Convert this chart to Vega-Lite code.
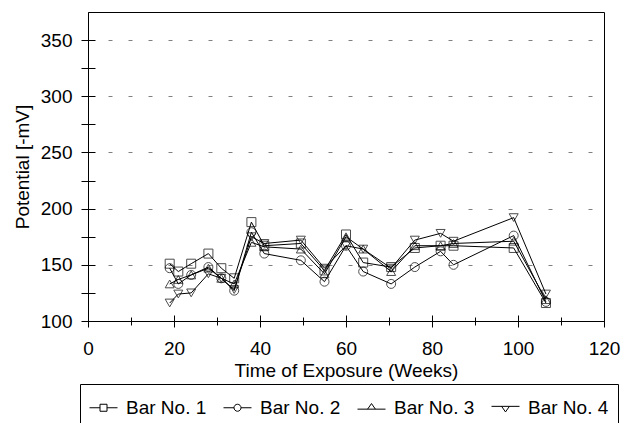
{
  "$schema": "https://vega.github.io/schema/vega-lite/v6.json",
  "width": 516,
  "height": 309,
  "autosize": "none",
  "padding": {"left": 88, "top": 12, "right": 20, "bottom": 102},
  "background": "white",
  "config": {
    "font": "Liberation Sans",
    "view": {"stroke": "black", "strokeWidth": 1},
    "axis": {
      "labelFont": "Liberation Sans", "titleFont": "Liberation Sans",
      "labelFontSize": 19, "titleFontSize": 19, "titleFontWeight": "normal",
      "labelColor": "black", "titleColor": "black",
      "domainColor": "black", "tickColor": "black", "domainWidth": 1, "tickWidth": 1
    }
  },
  "data": {"values": [
    {"week": 19, "bar": "Bar No. 1", "mV": 151}, {"week": 21, "bar": "Bar No. 1", "mV": 144}, {"week": 24, "bar": "Bar No. 1", "mV": 151}, {"week": 28, "bar": "Bar No. 1", "mV": 160}, {"week": 31, "bar": "Bar No. 1", "mV": 147}, {"week": 34, "bar": "Bar No. 1", "mV": 138}, {"week": 38, "bar": "Bar No. 1", "mV": 188}, {"week": 41, "bar": "Bar No. 1", "mV": 167}, {"week": 49.5, "bar": "Bar No. 1", "mV": 169}, {"week": 55, "bar": "Bar No. 1", "mV": 145}, {"week": 60, "bar": "Bar No. 1", "mV": 177}, {"week": 64, "bar": "Bar No. 1", "mV": 152}, {"week": 70.5, "bar": "Bar No. 1", "mV": 148}, {"week": 76, "bar": "Bar No. 1", "mV": 165}, {"week": 82, "bar": "Bar No. 1", "mV": 167}, {"week": 85, "bar": "Bar No. 1", "mV": 167}, {"week": 99, "bar": "Bar No. 1", "mV": 165}, {"week": 106.5, "bar": "Bar No. 1", "mV": 116},
    {"week": 19, "bar": "Bar No. 2", "mV": 147}, {"week": 21, "bar": "Bar No. 2", "mV": 133}, {"week": 24, "bar": "Bar No. 2", "mV": 141}, {"week": 28, "bar": "Bar No. 2", "mV": 148}, {"week": 31, "bar": "Bar No. 2", "mV": 138}, {"week": 34, "bar": "Bar No. 2", "mV": 127}, {"week": 38, "bar": "Bar No. 2", "mV": 179}, {"week": 41, "bar": "Bar No. 2", "mV": 160}, {"week": 49.5, "bar": "Bar No. 2", "mV": 154}, {"week": 55, "bar": "Bar No. 2", "mV": 135}, {"week": 60, "bar": "Bar No. 2", "mV": 167}, {"week": 64, "bar": "Bar No. 2", "mV": 144}, {"week": 70.5, "bar": "Bar No. 2", "mV": 133}, {"week": 76, "bar": "Bar No. 2", "mV": 148}, {"week": 82, "bar": "Bar No. 2", "mV": 162}, {"week": 85, "bar": "Bar No. 2", "mV": 150}, {"week": 99, "bar": "Bar No. 2", "mV": 176}, {"week": 106.5, "bar": "Bar No. 2", "mV": 117},
    {"week": 19, "bar": "Bar No. 3", "mV": 133}, {"week": 21, "bar": "Bar No. 3", "mV": 137}, {"week": 24, "bar": "Bar No. 3", "mV": 141}, {"week": 28, "bar": "Bar No. 3", "mV": 147}, {"week": 31, "bar": "Bar No. 3", "mV": 138}, {"week": 34, "bar": "Bar No. 3", "mV": 133}, {"week": 38, "bar": "Bar No. 3", "mV": 170}, {"week": 41, "bar": "Bar No. 3", "mV": 166}, {"week": 49.5, "bar": "Bar No. 3", "mV": 164}, {"week": 55, "bar": "Bar No. 3", "mV": 142}, {"week": 60, "bar": "Bar No. 3", "mV": 175}, {"week": 64, "bar": "Bar No. 3", "mV": 164}, {"week": 70.5, "bar": "Bar No. 3", "mV": 144}, {"week": 76, "bar": "Bar No. 3", "mV": 167}, {"week": 82, "bar": "Bar No. 3", "mV": 167}, {"week": 85, "bar": "Bar No. 3", "mV": 169}, {"week": 99, "bar": "Bar No. 3", "mV": 171}, {"week": 106.5, "bar": "Bar No. 3", "mV": 119},
    {"week": 19, "bar": "Bar No. 4", "mV": 116}, {"week": 21, "bar": "Bar No. 4", "mV": 124}, {"week": 24, "bar": "Bar No. 4", "mV": 125}, {"week": 28, "bar": "Bar No. 4", "mV": 142}, {"week": 31, "bar": "Bar No. 4", "mV": 138}, {"week": 34, "bar": "Bar No. 4", "mV": 128}, {"week": 38, "bar": "Bar No. 4", "mV": 175}, {"week": 41, "bar": "Bar No. 4", "mV": 169}, {"week": 49.5, "bar": "Bar No. 4", "mV": 172}, {"week": 55, "bar": "Bar No. 4", "mV": 147}, {"week": 60, "bar": "Bar No. 4", "mV": 167}, {"week": 64, "bar": "Bar No. 4", "mV": 164}, {"week": 70.5, "bar": "Bar No. 4", "mV": 147}, {"week": 76, "bar": "Bar No. 4", "mV": 172}, {"week": 82, "bar": "Bar No. 4", "mV": 178}, {"week": 85, "bar": "Bar No. 4", "mV": 171}, {"week": 99, "bar": "Bar No. 4", "mV": 192}, {"week": 106.5, "bar": "Bar No. 4", "mV": 124}
  ]},
  "layer": [
    {
      "mark": {"type": "line", "color": "black", "strokeWidth": 1},
      "encoding": {
        "x": {"field": "week", "type": "quantitative", "scale": {"domain": [0, 120], "nice": false},
          "axis": {"values": [0, 20, 40, 60, 80, 100, 120], "ticks": false, "labelPadding": 18, "labelFlush": false, "title": "Time of Exposure (Weeks)", "titlePadding": 3, "grid": false}},
        "y": {"field": "mV", "type": "quantitative", "scale": {"domain": [100, 375], "nice": false, "zero": false},
          "axis": {"values": [100, 150, 200, 250, 300, 350], "ticks": false, "labelPadding": 16, "title": "Potential [-mV]", "titlePadding": 8, "grid": true, "gridDash": [4, 16], "gridColor": "#808080", "gridWidth": 1}},
        "detail": {"field": "bar", "type": "nominal"},
        "order": {"field": "week", "type": "quantitative"}
      }
    },
    {
      "mark": {"type": "point", "filled": false, "color": "black", "strokeWidth": 1, "size": 81},
      "encoding": {
        "x": {"field": "week", "type": "quantitative", "axis": null},
        "y": {"field": "mV", "type": "quantitative", "axis": null},
        "shape": {"field": "bar", "type": "nominal", "legend": null,
          "scale": {"domain": ["Bar No. 1", "Bar No. 2", "Bar No. 3", "Bar No. 4"], "range": ["square", "circle", "triangle-up", "triangle-down"]}}
      }
    },
    {
      "mark": {"type": "point", "opacity": 0},
      "encoding": {
        "x": {"field": "week", "type": "quantitative",
          "axis": {"orient": "bottom", "values": [0, 20, 40, 60, 80, 100, 120], "offset": -6, "tickSize": 12, "labels": false, "domain": false, "grid": false, "title": null}},
        "y": {"field": "mV", "type": "quantitative",
          "axis": {"orient": "left", "values": [100, 125, 150, 175, 200, 225, 250, 275, 300, 325, 350], "offset": -7, "tickSize": 14, "labels": false, "domain": false, "grid": false, "title": null}}
      }
    },
    {
      "mark": {"type": "point", "opacity": 0},
      "encoding": {
        "x": {"field": "week", "type": "quantitative",
          "axis": {"orient": "bottom", "values": [10, 30, 50, 70, 90, 110], "offset": -4, "tickSize": 8, "labels": false, "domain": false, "grid": false, "title": null}},
        "y": {"field": "mV", "type": "quantitative", "axis": null}
      }
    },
    {
      "transform": [{"filter": "datum.week < 0"}],
      "mark": {"type": "point", "filled": false, "color": "black", "strokeWidth": 1},
      "encoding": {
        "shape": {"field": "bar", "type": "nominal",
          "scale": {"domain": ["Bar No. 1", "Bar No. 2", "Bar No. 3", "Bar No. 4"],
            "range": [
              "M-1,0H-0.25M0.25,0H1M-0.25,-0.25H0.25V0.25H-0.25Z",
              "M-1,0H-0.25M0.25,0H1M0.25,0A0.25,0.25 0 1 1 -0.25,0A0.25,0.25 0 1 1 0.25,0",
              "M-1,0.1H1M-0.28,0.1L0,-0.3L0.28,0.1",
              "M-1,-0.1H1M-0.28,-0.1L0,0.3L0.28,-0.1"
            ]},
          "legend": {
            "title": null, "orient": "none", "legendX": -8, "legendY": 372,
            "direction": "horizontal", "columns": 4, "columnPadding": 14,
            "symbolSize": 784, "labelOffset": 8, "labelFontSize": 19, "labelFont": "Liberation Sans", "labelColor": "black",
            "strokeColor": "black", "fillColor": "white", "padding": 9,
            "symbolStrokeWidth": 1, "symbolFillColor": "transparent", "symbolStrokeColor": "black", "symbolOpacity": 1
          }}
      }
    }
  ],
  "resolve": {"axis": {"x": "independent", "y": "independent"}, "scale": {"shape": "independent"}}
}
